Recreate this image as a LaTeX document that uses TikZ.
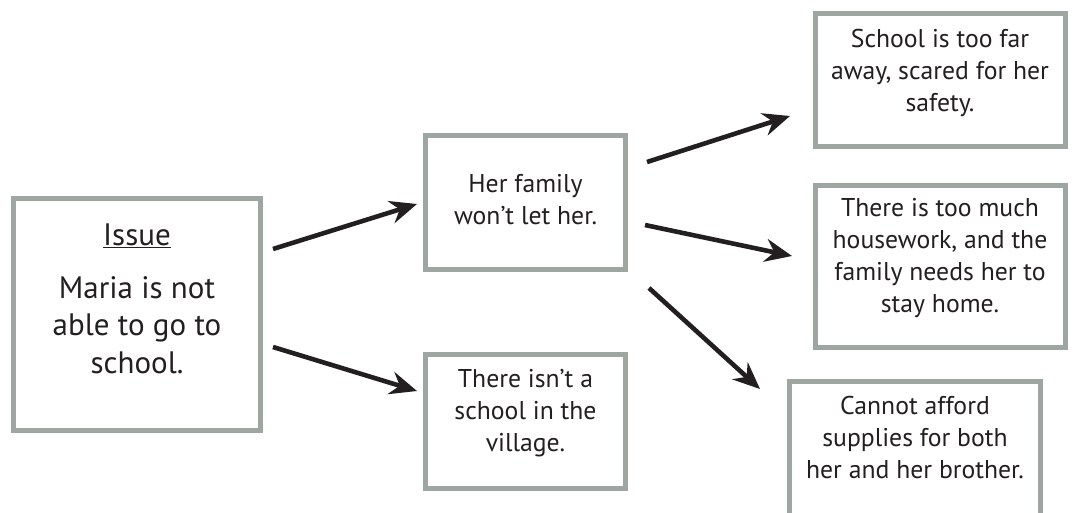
\documentclass[tikz,border=0pt]{standalone}
\usepackage{fontspec}
\setmainfont{PT Sans}
\usetikzlibrary{arrows.meta}
\definecolor{boxgray}{RGB}{157,166,161}
\definecolor{ink}{RGB}{35,31,32}
\begin{document}
\begin{tikzpicture}[x=1pt,y=-1pt,
  box/.style={draw=boxgray,line width=5pt,rectangle,inner sep=0pt,fill=white},
  txt/.style={anchor=north,inner sep=0pt,align=center,text=ink,font=\fontsize{25.7}{32}\selectfont},
  bigtxt/.style={anchor=north,inner sep=0pt,align=center,text=ink,font=\fontsize{31}{37.5}\selectfont},
  arr/.style={draw=ink,line width=4.6pt,-{Stealth[length=27pt,width=23pt,inset=9pt]}}]
\useasboundingbox (0,0) rectangle (1075,512);
% boxes (outer edges minus half the line width)
\node[box,minimum width=247pt,minimum height=232pt] (issue) at (137,314.5) {};
\node[box,minimum width=200pt,minimum height=134pt] (fam) at (525.5,202.5) {};
\node[box,minimum width=200pt,minimum height=134pt] (vil) at (525.5,421.5) {};
\node[box,minimum width=250pt,minimum height=133pt] (far) at (940,80) {};
\node[box,minimum width=250pt,minimum height=162pt] (house) at (940,266.5) {};
\node[box,minimum width=251pt,minimum height=145pt] (afford) at (915,454) {};
% texts
\node[bigtxt] (tissue) at (137,224) {\underline{Issue}};
\node[bigtxt] (tmaria) at (137,276) {Maria is not\\able to go to\\school.};
\node[txt] (tfam) at (525.5,174) {Her family\\won’t let her.};
\node[txt] (tvil) at (525.5,369) {There isn’t a\\school in the\\village.};
\node[txt] (tfar) at (940,29) {School is too far\\away, scared for her\\safety.};
\node[txt] (thouse) at (940,198) {There is too much\\housework, and the\\family needs her to\\stay home.};
\node[txt] (tafford) at (915,396) {Cannot afford\\supplies for both\\her and her brother.};
% arrow end points
\coordinate (a1s) at (273,249); \coordinate (a1e) at (417,204);
\coordinate (a2s) at (273,347); \coordinate (a2e) at (417,391);
\coordinate (a3s) at (647,162); \coordinate (a3e) at (790,116);
\coordinate (a4s) at (645,225); \coordinate (a4e) at (792,256);
\coordinate (a5s) at (649,288); \coordinate (a5e) at (760,389);
\draw[arr] (a1s) -- (a1e);
\draw[arr] (a2s) -- (a2e);
\draw[arr] (a3s) -- (a3e);
\draw[arr] (a4s) -- (a4e);
\draw[arr] (a5s) -- (a5e);
\end{tikzpicture}
\end{document}
